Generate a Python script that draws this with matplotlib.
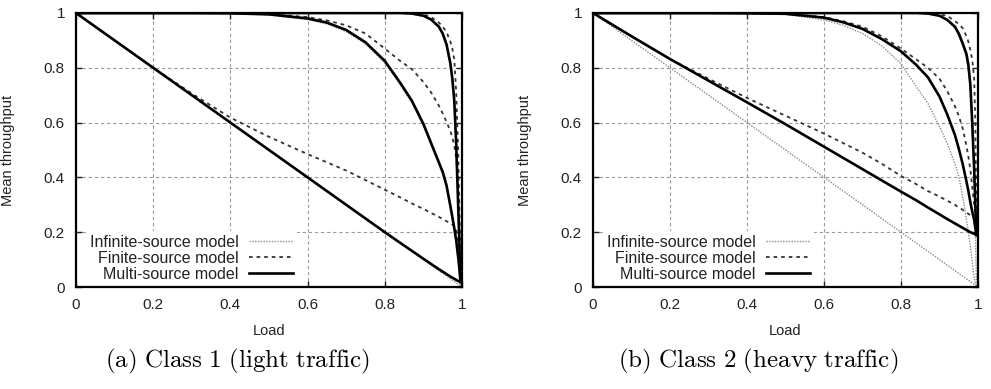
import matplotlib
matplotlib.use('Agg')
import matplotlib.pyplot as plt

plt.rcParams['font.family'] = ['Liberation Sans', 'DejaVu Sans']
plt.rcParams['mathtext.fontset'] = 'cm'

# load grid shared by every curve
load = [0, 0.1, 0.2, 0.3, 0.4, 0.5, 0.6, 0.65, 0.7, 0.75, 0.8, 0.84, 0.87, 0.9,
        0.92, 0.94, 0.95, 0.96, 0.97, 0.975, 0.98, 0.985, 0.99, 0.993, 0.996]

# ---- class 1 (light traffic)
c1_inf_low = [1, .9, .8, .7, .6, .5, .4, .35, .3, .25, .2, .16, .13, .1,
              .08, .06, .05, .04, .03, .025, .02, .015, .01, .007, .004]
c1_inf_mid = [1, 1, 1, 1, .999, .993, .976, .96, .932, .887, .818, .738, .672, .588,
              .518, .448, .412, .362, .287, .247, .207, .16, .1, .06, .005]
c1_inf_hi = [1, 1, 1, 1, 1, 1, 1, 1, 1, 1, 1, 1, .997, .988,
             .974, .948, .92, .877, .805, .748, .665, .5, .28, .15, .003]
c1_fin_low = [1, .9, .8, .706, .618, .548, .485, .455, .425, .39, .355, .327, .305, .285,
              .27, .256, .248, .24, .232, .228, .222, .21, .15, .09, .03]
c1_fin_mid = [1, 1, 1, 1, .999, .996, .985, .973, .955, .925, .87, .825, .795, .748,
              .71, .662, .633, .603, .568, .545, .515, .47, .39, .25, .03]
c1_fin_hi = [1, 1, 1, 1, 1, 1, 1, 1, 1, 1, 1, 1, 1, .995,
             .985, .965, .95, .93, .895, .87, .83, .71, .5, .3, .03]
c1_multi_low = [1, .9, .8, .7, .6, .5, .4, .35, .3, .25, .2, .161, .132, .103,
                .084, .065, .056, .047, .038, .034, .03, .026, .022, .02, .018]
c1_multi_mid = [1, 1, 1, 1, .999, .995, .98, .965, .938, .893, .825, .745, .68, .595,
                .525, .455, .42, .37, .295, .255, .215, .17, .11, .07, .02]
c1_multi_hi = [1, 1, 1, 1, 1, 1, 1, 1, 1, 1, 1, 1, .998, .99,
               .976, .95, .925, .885, .815, .76, .68, .52, .3, .17, .02]

# ---- class 2 (heavy traffic)
c2_inf_low = [1, .9, .8, .7, .6, .5, .4, .35, .3, .25, .2, .16, .13, .1,
              .08, .06, .05, .04, .03, .025, .02, .015, .01, .007, .004]
c2_inf_mid = [1, 1, 1, 1, .999, .995, .975, .955, .925, .88, .815, .73, .67, .585,
              .525, .45, .405, .33, .245, .2, .15, .09, .03, .015, .003]
c2_inf_hi = [1, 1, 1, 1, 1, 1, 1, 1, 1, 1, 1, 1, .997, .988,
             .972, .945, .918, .88, .835, .79, .72, .57, .4, .2, .003]
c2_fin_low = [1, .915, .832, .76, .69, .625, .56, .525, .49, .45, .405, .375, .35, .33,
              .315, .3, .29, .282, .272, .267, .262, .257, .252, .248, .245]
c2_fin_mid = [1, 1, 1, 1, .999, .997, .985, .97, .95, .915, .87, .83, .8, .76,
              .715, .66, .625, .58, .515, .475, .43, .365, .3, .27, .245]
c2_fin_hi = [1, 1, 1, 1, 1, 1, 1, 1, 1, 1, 1, 1, 1, .995,
             .99, .97, .96, .945, .915, .895, .865, .83, .76, .6, .25]
c2_multi_low = [1, .915, .832, .753, .674, .594, .512, .471, .43, .389, .348, .316, .29, .265,
                .248, .232, .224, .216, .208, .204, .2, .197, .194, .192, .19]
c2_multi_mid = [1, 1, 1, 1, .999, .997, .983, .966, .942, .905, .86, .81, .765, .695,
                .63, .555, .505, .45, .385, .35, .31, .275, .245, .215, .19]
c2_multi_hi = [1, 1, 1, 1, 1, 1, 1, 1, 1, 1, 1, 1, .998, .99,
               .975, .95, .925, .89, .85, .81, .74, .6, .43, .3, .19]

ticks = [0, 0.2, 0.4, 0.6, 0.8, 1]
tick_labels = ['0', '0.2', '0.4', '0.6', '0.8', '1']
legend_labels = ['Infinite-source model', 'Finite-source model', 'Multi-source model']
captions = [r'$\mathrm{(a)\ Class\ 1\ (light\ traffic)}$',
            r'$\mathrm{(b)\ Class\ 2\ (heavy\ traffic)}$']

inf_style = dict(color='#8a8a8a', lw=1.0, linestyle=(0, (1, 1)))
fin_style = dict(color='#333333', lw=1.3, linestyle=(0, (2, 2.2)))
multi_style = dict(color='black', lw=1.9, linestyle='-')

fig = plt.figure(figsize=(9.91, 3.89), dpi=100)
ax1 = fig.add_axes([0.0767, 0.2622, 0.3895, 0.7044])
ax2 = fig.add_axes([0.5984, 0.2622, 0.3885, 0.7044])

panels = [
    (ax1, [c1_inf_low, c1_inf_mid, c1_inf_hi], [c1_fin_low, c1_fin_mid, c1_fin_hi],
     [c1_multi_low, c1_multi_mid, c1_multi_hi]),
    (ax2, [c2_inf_low, c2_inf_mid, c2_inf_hi], [c2_fin_low, c2_fin_mid, c2_fin_hi],
     [c2_multi_low, c2_multi_mid, c2_multi_hi]),
]

for k, (ax, infs, fins, multis) in enumerate(panels):
    h_inf = h_fin = h_multi = None
    for yv in infs:
        h_inf, = ax.plot(load, yv, zorder=3, **inf_style)
    for yv in fins:
        h_fin, = ax.plot(load, yv, zorder=4, **fin_style)
    for yv in multis:
        h_multi, = ax.plot(load, yv, zorder=5, **multi_style)

    ax.set_xlim(0, 1)
    ax.set_ylim(0, 1)
    ax.set_xticks(ticks)
    ax.set_xticklabels(tick_labels)
    ax.set_yticks(ticks)
    ax.set_yticklabels(tick_labels)
    ax.tick_params(direction='in', top=True, right=True, length=4, width=1,
                   labelsize=11, colors='#222222', pad=8)
    ax.grid(True, color='#9a9a9a', lw=0.8, linestyle=(0, (3, 2.5)))
    ax.set_axisbelow(True)
    for s in ax.spines.values():
        s.set_linewidth(1.6)
        s.set_zorder(6)
    ax.set_xlabel('Load', fontsize=10.5, color='#222222')
    ax.set_ylabel('Mean throughput', fontsize=10.5, color='#222222')
    ax.xaxis.set_label_coords(0.5, -0.16)
    ax.xaxis.label.set_va('center')
    ax.yaxis.set_label_coords(-0.176, 0.5)
    ax.yaxis.label.set_va('center')

    leg = ax.legend([h_inf, h_fin, h_multi], legend_labels, loc='lower left',
                    bbox_to_anchor=(0.026, 0.005), markerfirst=False, fontsize=11.5,
                    frameon=True, fancybox=False, framealpha=1, edgecolor='none',
                    handlelength=2.75, handletextpad=0.62, labelspacing=0.06,
                    borderpad=0.25, borderaxespad=0.0)
    for t in leg.get_texts():
        t.set_color('#222222')
    leg.set_zorder(2.5)

fig.text(0.24, 0.07, captions[0], fontsize=18, ha='center', va='center')
fig.text(0.765, 0.07, captions[1], fontsize=18, ha='center', va='center')

fig.savefig('out.png', dpi=100)
